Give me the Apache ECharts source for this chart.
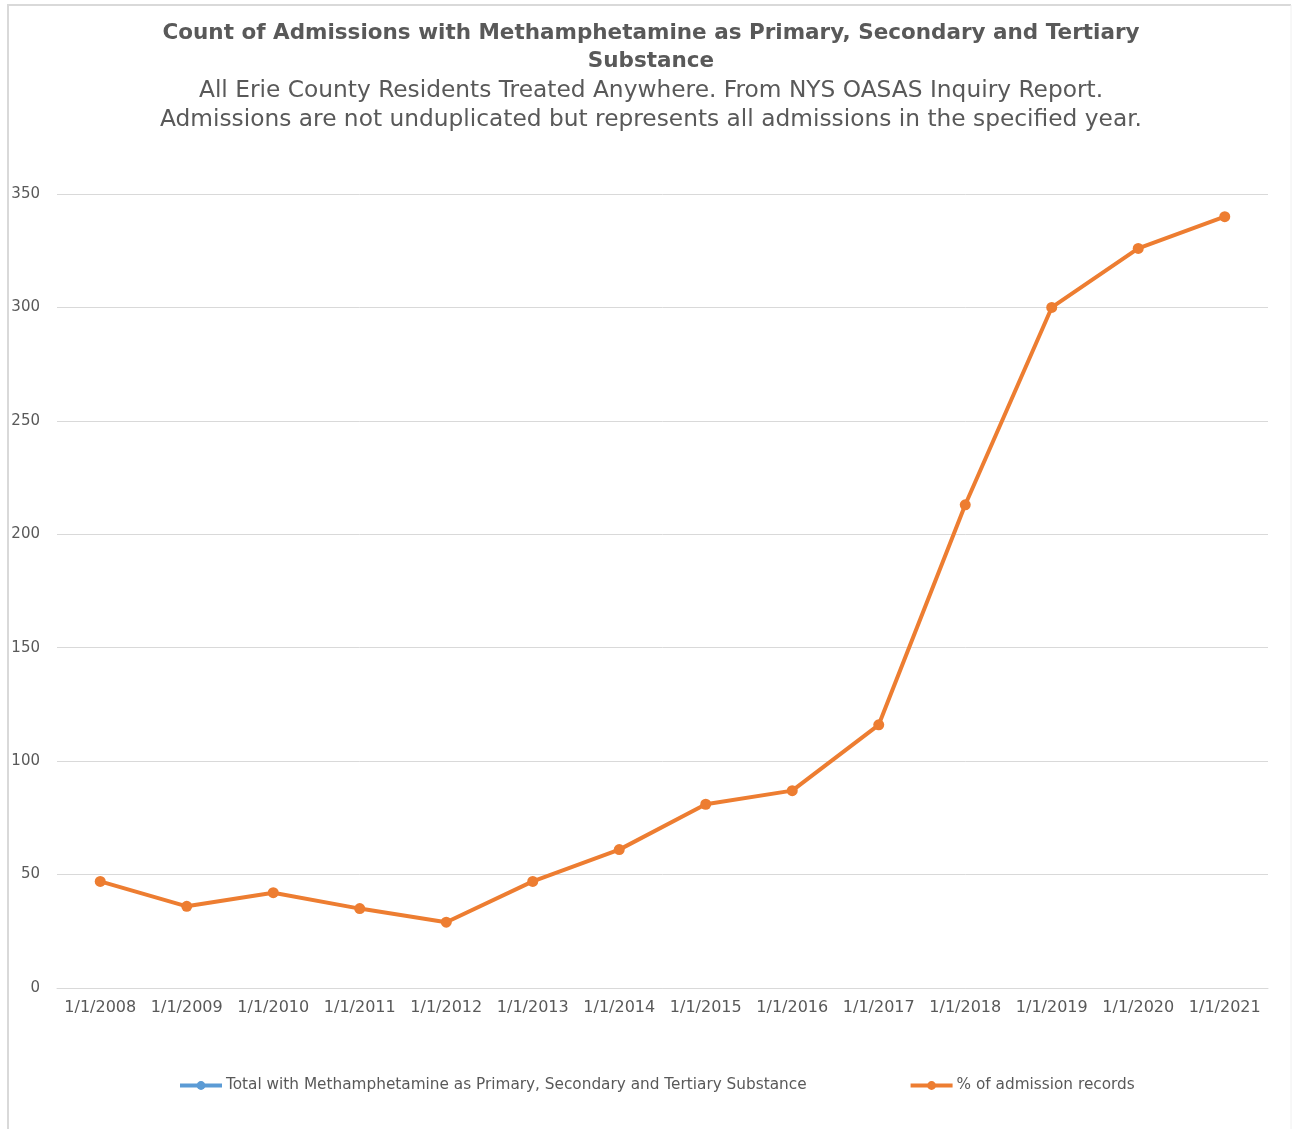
<!DOCTYPE html>
<html>
<head>
<meta charset="utf-8">
<script src="https://cdn.jsdelivr.net/npm/echarts@6/dist/echarts.min.js"></script>
<style>
html,body{margin:0;padding:0;background:#fff;}
#main{width:1292px;height:1129px;}
</style>
</head>
<body>
<div id="main"></div>
<script>
const categories = ['1/1/2008','1/1/2009','1/1/2010','1/1/2011','1/1/2012','1/1/2013','1/1/2014','1/1/2015','1/1/2016','1/1/2017','1/1/2018','1/1/2019','1/1/2020','1/1/2021'];
const totalSeries = [];
const pctSeries = [47, 36, 42, 35, 29, 47, 61, 81, 87, 116, 213, 300, 326, 340];
const seriesNames = ['Total with Methamphetamine as Primary, Secondary and Tertiary Substance', '% of admission records'];
const titleText = 'Count of Admissions with Methamphetamine as Primary, Secondary and Tertiary\nSubstance';
const subText = 'All Erie County Residents Treated Anywhere. From NYS OASAS Inquiry Report.\nAdmissions are not unduplicated but represents all admissions in the specified year.';

const chart = echarts.init(document.getElementById('main'));
const font = '"DejaVu Sans", "Open Sans", sans-serif';
chart.setOption({
  backgroundColor: '#fff',
  animation: false,
  textStyle: {fontFamily: font},
  graphic: [
    {type: 'line', shape: {x1: 8, y1: 5, x2: 8, y2: 1129}, style: {stroke: '#d9d9d9', lineWidth: 2}},
    {type: 'line', shape: {x1: 7, y1: 5, x2: 1291, y2: 5}, style: {stroke: '#d9d9d9', lineWidth: 2}},
    {type: 'line', shape: {x1: 1291, y1: 5, x2: 1291, y2: 1129}, style: {stroke: '#f0f0f0', lineWidth: 1}}
  ],
  title: [
    {
      text: titleText,
      left: 646, textAlign: 'center', top: 14,
      textStyle: {fontFamily: font, fontSize: 21.5, fontWeight: 'bold', color: '#595959', lineHeight: 28}
    },
    {
      text: subText,
      left: 646, textAlign: 'center', top: 71,
      textStyle: {fontFamily: font, fontSize: 23.3, fontWeight: 'normal', color: '#595959', lineHeight: 29}
    }
  ],
  legend: {
    bottom: 31,
    left: 173,
    itemGap: 102,
    itemWidth: 42,
    itemHeight: 11,
    lineStyle: {width: 4},
    textStyle: {fontFamily: font, fontSize: 15.3, color: '#595959', padding: [0,0,0,-1]},
    data: seriesNames
  },
  grid: {left: 57, right: 24, top: 194, bottom: 141, containLabel: false},
  xAxis: {
    type: 'category',
    data: categories,
    boundaryGap: true,
    axisLine: {show: true, lineStyle: {color: '#d9d9d9', width: 1}},
    axisTick: {show: false},
    axisLabel: {color: '#595959', fontSize: 16, margin: 12, interval: 0, fontFamily: font}
  },
  yAxis: {
    type: 'value',
    min: 0, max: 350, interval: 50,
    axisLine: {show: false},
    axisTick: {show: false},
    splitLine: {lineStyle: {color: '#d9d9d9', width: 1}},
    axisLabel: {color: '#595959', fontSize: 15, margin: 17, fontFamily: font}
  },
  series: [
    {
      name: seriesNames[0],
      type: 'line',
      data: totalSeries,
      symbol: 'circle', symbolSize: 11,
      itemStyle: {color: '#5b9bd5'},
      lineStyle: {color: '#5b9bd5', width: 4}
    },
    {
      name: seriesNames[1],
      type: 'line',
      data: pctSeries,
      symbol: 'circle', symbolSize: 11,
      itemStyle: {color: '#ed7d31'},
      lineStyle: {color: '#ed7d31', width: 4}
    }
  ]
});
</script>
</body>
</html>
